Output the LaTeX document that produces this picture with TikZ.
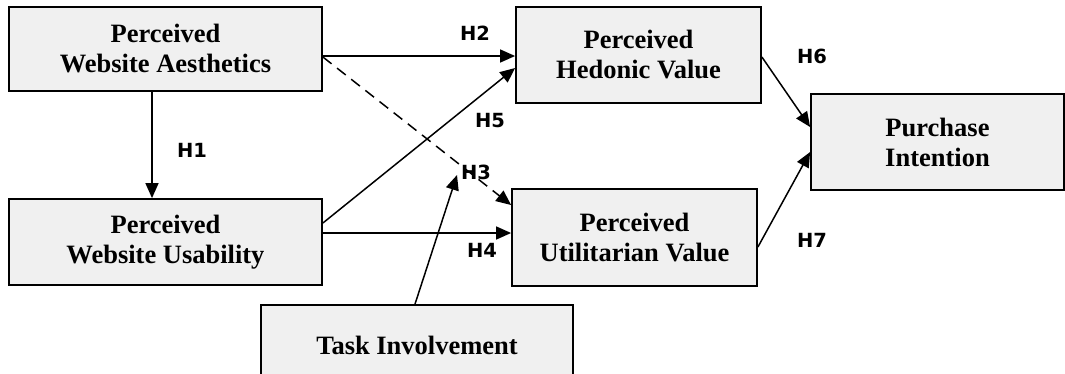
\documentclass[tikz,border=0pt]{standalone}
\usepackage{fontspec}
\setmainfont{Liberation Serif}
\newfontfamily\hypfont{DejaVu Sans}
\usetikzlibrary{arrows.meta}

\begin{document}
\begin{tikzpicture}[x=1pt, y=-1pt,
  construct/.style={fill=black!6, draw, line width=1.8pt, align=center, inner sep=0pt,
    font=\bfseries\fontsize{26.5}{30}\selectfont},
  hyp/.style={font=\hypfont\bfseries\fontsize{19.5}{22}\selectfont},
  link/.style={line width=1.5pt},
  >={Triangle[length=15pt,width=13pt]}]
  \path[use as bounding box, clip] (0,0) rectangle (1065,373);
  % constructs
  \node[construct, minimum width=313pt, minimum height=84pt] (aes) at (165.5,49) {Perceived\\Website Aesthetics};
  \node[construct, minimum width=313pt, minimum height=86pt] (usa) at (165.5,242) {Perceived\\Website Usability};
  \node[construct, minimum width=245pt, minimum height=96pt] (hed) at (638.5,55) {Perceived\\Hedonic Value};
  \node[construct, minimum width=245pt, minimum height=97pt] (uti) at (634.5,237.5) {Perceived\\Utilitarian Value};
  \node[construct, minimum width=253pt, minimum height=96pt] (pur) at (937.5,142) {Purchase\\Intention};
  \node[construct, minimum width=312pt, minimum height=80pt] (inv) at (417,345) {Task Involvement};
  % paths
  \draw[->, link] ([xshift=-13.5pt]aes.south) -- ([xshift=-13.5pt]usa.north);
  \draw[->, link] ([yshift=-7pt]aes.east) -- ([yshift=-1pt]hed.west);
  \draw[->, link, dash pattern=on 11pt off 7pt] ([yshift=-8pt]aes.east) -- ([yshift=32.5pt]uti.west);
  \draw[->, link] ([yshift=19pt]usa.east) -- ([yshift=-13pt]hed.west);
  \draw[->, link] ([yshift=9pt]usa.east) -- ([yshift=4.5pt]uti.west);
  \coordinate (mod) at (457,175);
  \draw[->, link] ([xshift=-2pt]inv.north) -- (mod);
  \draw[->, link] ([yshift=-2pt]hed.east) -- ([yshift=15pt]pur.west);
  \draw[->, link] ([yshift=-9.5pt]uti.east) -- ([yshift=-10pt]pur.west);
  % hypotheses
  \node[hyp] (h1) at (192,150) {H1};
  \node[hyp] (h2) at (475,33) {H2};
  \node[hyp] (h3) at (476,172) {H3};
  \node[hyp] (h4) at (482,250) {H4};
  \node[hyp] (h5) at (490,121) {H5};
  \node[hyp] (h6) at (812,56) {H6};
  \node[hyp] (h7) at (812,240) {H7};
\end{tikzpicture}
\end{document}
